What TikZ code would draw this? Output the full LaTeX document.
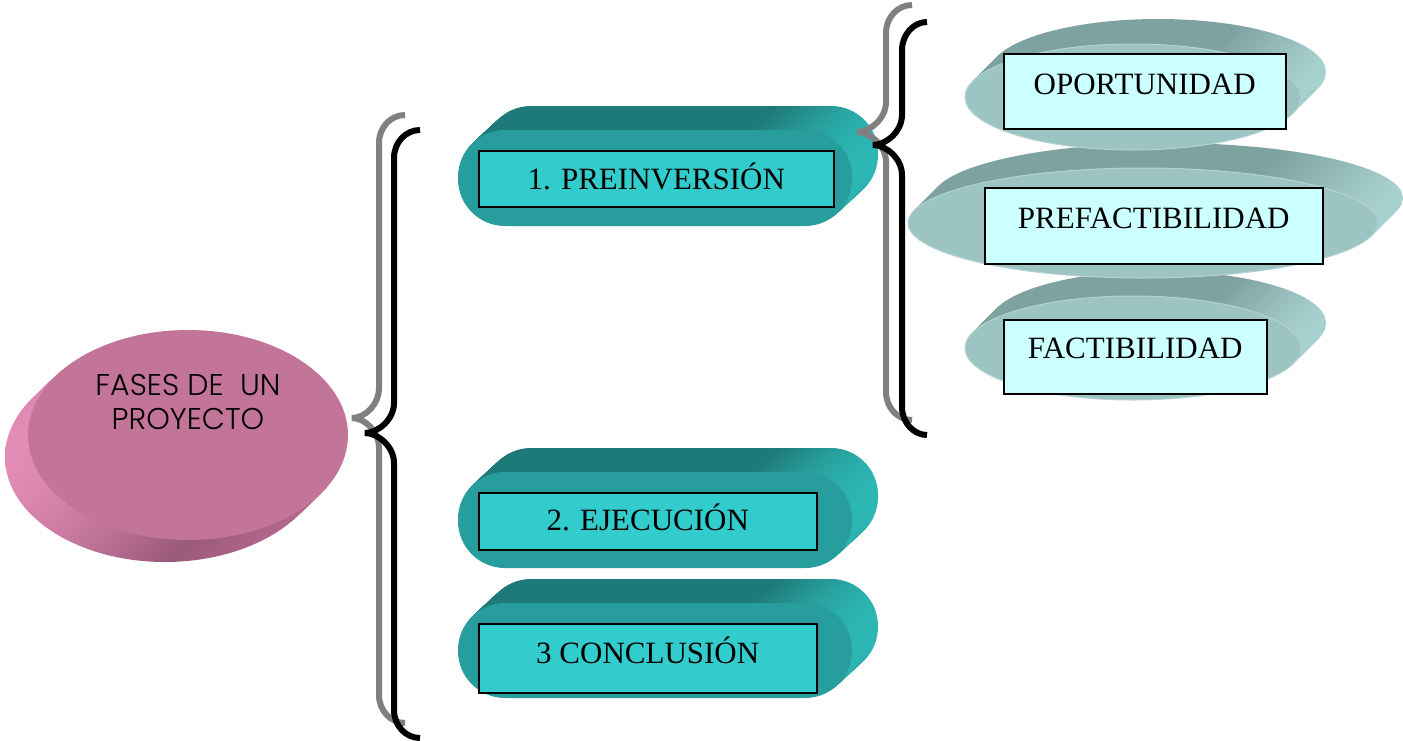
\documentclass[tikz,border=0pt]{standalone}
\usepackage{fontspec}
\setmainfont{Liberation Serif}
\IfFontExistsTF{Poppins Light}{\newfontfamily\pinkfont{Poppins Light}}{\newfontfamily\pinkfont{Poppins}}
\definecolor{pinkF}{HTML}{C27499}
\definecolor{pinkL}{HTML}{E38CB6}
\definecolor{pinkD}{HTML}{9A5A7B}
\definecolor{pinkM}{HTML}{C06C95}
\definecolor{tealF}{HTML}{279E9D}
\definecolor{tealD}{HTML}{1E7A78}
\definecolor{tealL}{HTML}{2DB8B5}
\definecolor{tealBox}{HTML}{33CCCC}
\definecolor{sageF}{HTML}{9CC4C3}
\definecolor{sageD}{HTML}{7EA2A0}
\definecolor{sageL}{HTML}{A8D2D0}
\definecolor{sageBox}{HTML}{CCFFFF}
\definecolor{braceGrey}{HTML}{808080}
\pgfdeclarehorizontalshading{tealsh}{100bp}{color(0bp)=(tealD); color(25bp)=(tealD); color(62bp)=(tealD); color(75bp)=(tealL); color(100bp)=(tealL)}
\pgfdeclarehorizontalshading{sagesh}{100bp}{color(0bp)=(sageD); color(25bp)=(sageD); color(62bp)=(sageD); color(75bp)=(sageL); color(100bp)=(sageL)}
\pgfdeclarehorizontalshading{pinksh}{100bp}{color(0bp)=(pinkL); color(25bp)=(pinkL); color(50bp)=(pinkD); color(75bp)=(pinkM); color(100bp)=(pinkM)}
% pill: x1,y1,x2,y2
\newcommand\drawpill[4]{%
  \foreach \i in {24,...,1}{\path[shade,shading=tealsh,rounded corners=47pt] ({#1+\i*26/24},{#2-\i}) rectangle ({#3+\i*26/24},{#4-\i});}
  \fill[tealF,rounded corners=47pt] (#1,#2) rectangle (#3,#4);}
% sage disc: cx,cy,rx,ry
\newcommand\drawsage[4]{%
  \foreach \i in {25,...,1}{\path[shade,shading=sagesh] ({#1+\i},{#2-\i}) ellipse[x radius=#3,y radius=#4];}
  \fill[sageF,draw=sageF!75!white,line width=1pt] (#1,#2) ellipse[x radius=#3,y radius=#4];}
% brace: style, e, yt, v, c, yc, yb
\newcommand\drawbrace[7]{%
  \draw[#1] (#2,#3) .. controls ({#4+11.6},#3) and (#4,{#3+12.5}) .. (#4,{#3+28})
    -- (#4,{#6-30}) .. controls (#4,{#6-13.5}) and ({#5+13},#6) .. (#5,#6)
    .. controls ({#5+13},#6) and (#4,{#6+13.5}) .. (#4,{#6+30})
    -- (#4,{#7-28}) .. controls (#4,{#7-12.5}) and ({#4+11.6},#7) .. (#2,#7);}
\begin{document}
\begin{tikzpicture}[x=1pt,y=-1pt,
  tealbox/.style={draw=black,line width=1.5pt,fill=tealBox,inner sep=0pt,anchor=north west,font=\fontsize{31}{33}\selectfont},
  sagebox/.style={draw=black,line width=1.5pt,fill=sageBox,inner sep=0pt,anchor=north west,font=\fontsize{31}{33}\selectfont},
  pinktext/.style={align=center,inner sep=0pt,anchor=north,font=\pinkfont\fontsize{30}{34}\selectfont},
  blackbrace/.style={draw=black,line width=6pt,line join=bevel},
  greybrace/.style={draw=braceGrey,line width=6pt,line join=bevel}]
\fill[white] (0,0) rectangle (1403,740);
\useasboundingbox (0,0) rectangle (1403,740);
% pink disc
\foreach \i in {22,...,1}{\path[shade,shading=pinksh] ({188-\i*23/22},{435+\i}) ellipse[x radius=160,y radius=105];}
\fill[pinkF] (188,435) ellipse[x radius=160,y radius=105];
\node[pinktext] (fases) at (188,374) {FASES DE\ \ UN\\PROYECTO};
% teal pills
\drawpill{458}{130}{852}{226}
\drawpill{458}{472}{852}{568}
\drawpill{458}{603}{852}{698}
\node[tealbox,minimum width=355pt,text height=39pt,text depth=17pt] (pre) at (478,150) {1. PREINVERSIÓN};
\node[tealbox,minimum width=338pt,text height=38pt,text depth=19pt] (eje) at (478,492) {2. EJECUCIÓN};
\node[tealbox,minimum width=338pt,text height=40pt,text depth=29pt] (con) at (478,623) {3 CONCLUSIÓN};
% sage discs
\drawsage{1133}{348}{168}{52}
\drawsage{1143}{223}{235}{55}
\drawsage{1133}{97}{168}{53}
\node[sagebox,minimum width=282pt,text height=41pt,text depth=34pt] (opo) at (1003,53) {OPORTUNIDAD};
\node[sagebox,minimum width=338pt,text height=41pt,text depth=35pt] (pref) at (984,187) {PREFACTIBILIDAD};
\node[sagebox,minimum width=263pt,text height=39pt,text depth=35pt] (fact) at (1003,319) {FACTIBILIDAD};
% braces
\drawbrace{greybrace}{405}{115}{379}{352}{418}{723}
\drawbrace{blackbrace}{420}{130}{394}{365}{433}{738}
\drawbrace{greybrace}{912}{5}{886}{857}{132}{420}
\drawbrace{blackbrace}{927}{22}{902}{873}{145}{435}
\end{tikzpicture}
\end{document}
